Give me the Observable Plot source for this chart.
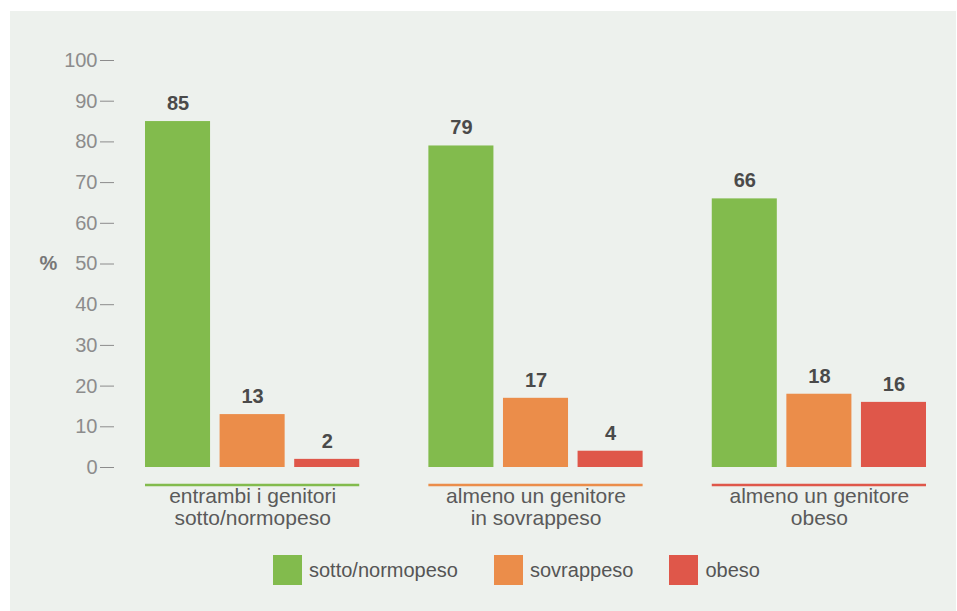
<!DOCTYPE html>
<html>
<head>
<meta charset="utf-8">
<script src="https://cdn.jsdelivr.net/npm/d3@7"></script>
<script src="https://cdn.jsdelivr.net/npm/@observablehq/plot@0.6"></script>
<style>
  html, body { margin: 0; padding: 0; background: #ffffff; width: 957px; height: 611px; overflow: hidden; }
  #panel { position: absolute; left: 10px; top: 11px; width: 946px; height: 600px; background: #edf1ed; font-family: "Liberation Sans", Arial, sans-serif; }
  #chart { position: absolute; left: 0; top: 0; }
  #legend { position: absolute; left: 263px; top: 544px; display: flex; align-items: center; gap: 36px; font-size: 20px; color: #555555; }
  .item { display: flex; align-items: center; gap: 7px; }
  .sw { width: 29px; height: 30px; display: inline-block; }
</style>
</head>
<body>
<div id="panel">
  <div id="chart"></div>
  <div id="legend"></div>
</div>
<script>
const groups = ["entrambi i genitori\nsotto/normopeso", "almeno un genitore\nin sovrappeso", "almeno un genitore\nobeso"];
const series = ["sotto/normopeso", "sovrappeso", "obeso"];
const normopeso = [85, 79, 66];
const sovrappeso = [13, 17, 18];
const obeso = [2, 4, 16];
const colors = ["#82bb4d", "#eb8d4a", "#df574a"];
const yTicks = [0, 10, 20, 30, 40, 50, 60, 70, 80, 90, 100];
const yLabel = "%";

const valuesBySeries = [normopeso, sovrappeso, obeso];
const data = groups.flatMap((g, i) => series.map((s, j) => ({group: g, series: s, value: valuesBySeries[j][i]})));

const chart = Plot.plot({
  width: 946,
  height: 540,
  marginTop: 49,
  marginBottom: 84,
  marginLeft: 135,
  marginRight: 30,
  style: {background: "transparent", fontFamily: "Liberation Sans, Arial, sans-serif", fontSize: "20px", overflow: "visible"},
  fx: {domain: groups, paddingInner: 0.244, paddingOuter: 0, round: false, axis: null, label: null},
  x: {domain: series, paddingInner: 0.128, paddingOuter: 0, round: false, axis: null, label: null},
  y: {domain: [0, 100], axis: null, label: null},
  color: {domain: series, range: colors},
  marks: [
    Plot.axisY({ticks: yTicks, tickSize: 14, tickPadding: 3, dx: -31, label: null, color: "#8c8c8c", fontSize: 20, facetAnchor: "left"}),
    Plot.text([yLabel], {fx: () => groups[0], y: () => 50, frameAnchor: "left", textAnchor: "middle", dx: -97, text: d => d, fontWeight: "bold", fill: "#777777", fontSize: 20}),
    Plot.barY(data, {fx: "group", x: "series", y: "value", fill: "series"}),
    Plot.text(data, {fx: "group", x: "series", y: "value", text: d => String(d.value), dy: -18, fontWeight: "bold", fill: "#4a4a4a", fontSize: 20}),
    Plot.ruleY(groups, {fx: d => d, y: () => 0, stroke: (d, i) => series[i], dy: 17.5, strokeWidth: 2.5}),
    Plot.text(groups, {fx: d => d, frameAnchor: "bottom", text: d => d, lineAnchor: "top", dy: 20, fontSize: 21, lineHeight: 1.05, fill: "#5a5a5a"})
  ]
});
document.getElementById("chart").appendChild(chart);

const legend = document.getElementById("legend");
series.forEach((s, i) => {
  const item = document.createElement("div");
  item.className = "item";
  const sw = document.createElement("span");
  sw.className = "sw";
  sw.style.background = colors[i];
  const t = document.createElement("span");
  t.textContent = s;
  item.appendChild(sw);
  item.appendChild(t);
  legend.appendChild(item);
});
</script>
</body>
</html>
